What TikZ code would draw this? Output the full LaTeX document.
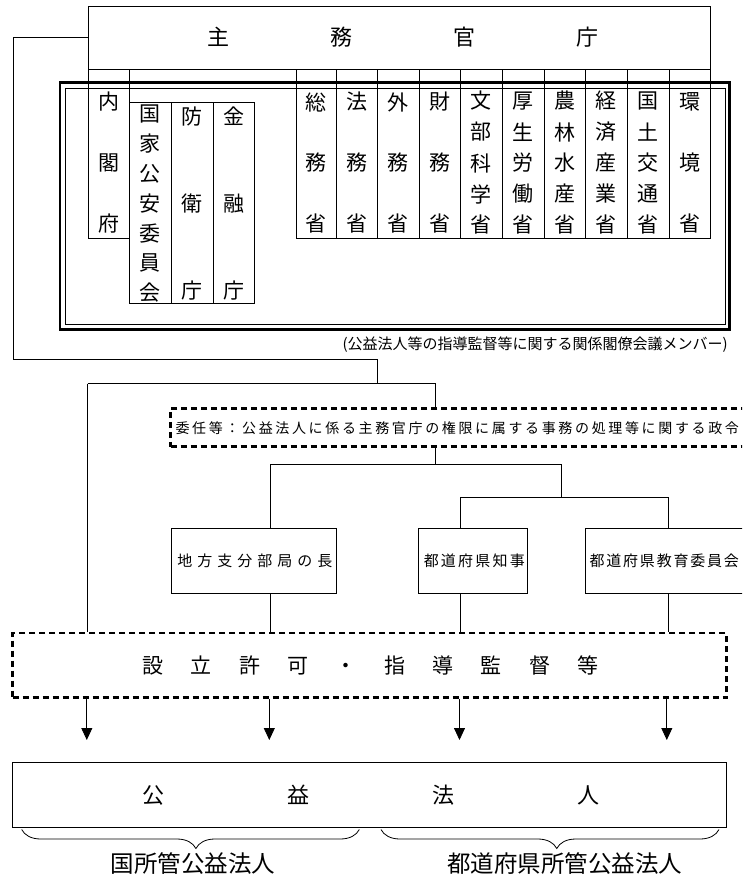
\documentclass[tikz,border=0pt]{standalone}
\usepackage{fontspec}
\setmainfont{Noto Sans CJK JP}
\usetikzlibrary{fit,arrows.meta,decorations.pathreplacing}

\newlength\spcw
\def\spreadtxt#1#2{\setlength\spcw{#1}\spreadloop#2\relax}
\def\spreadloop#1{\ifx\relax#1\else\hbox to\spcw{\hss#1\hss}\expandafter\spreadloop\fi}
\def\vspread#1#2{\vbox{\setlength\spcw{#1}\vspreadloop#2\relax}}
\def\vspreadloop#1{\ifx\relax#1\else\vbox to\spcw{\vss\hbox{#1}\vss}\expandafter\vspreadloop\fi}

\tikzset{
  box/.style={draw, line width=0.8pt, inner sep=0pt},
  dbox/.style={draw, line width=2.6pt, dash pattern=on 6pt off 4pt, inner sep=0pt},
  chr/.style={inner sep=0pt},
  conn/.style={line width=0.8pt},
  arr/.style={line width=0.8pt, -{Triangle[length=12pt,width=11pt]}},
  brc/.style={line width=0.8pt, decorate, decoration={brace, mirror, amplitude=19pt, aspect=#1}},
  fmin/.style={font=\fontsize{21}{25}\selectfont},
}

\begin{document}
\begin{tikzpicture}[x=1pt, y=-1pt]
\useasboundingbox (0,0) rectangle (742,878);
\clip (0,0) rectangle (742,878);

% title box
\node[box, fit={(88,6) (710,69)}] (gov) {};
\node[chr, font=\fontsize{22}{26}\selectfont] (govt) at (402.5,37.5) {\spreadtxt{123pt}{主務官庁}};

% columns
\node[box, fit={(88,69) (129,238)}] (naikaku) {};
\node[box, fit={(129,69) (296,82)}] (hdr) {};
\foreach \a/\b/\n in {296/336/1, 336/377.5/2, 377.5/419/3, 419/460.5/4, 460.5/502/5, 502/544/6, 544/585/7, 585/627/8, 627/669/9, 669/710/10}
  \node[box, fit={(\a,69) (\b,238)}] (m\n) {};
\node[box, fit={(129,102) (171,303.3)}] (kokka) {};
\node[box, fit={(171,102) (213,303.3)}] (bouei) {};
\node[box, fit={(213,102) (254,303.3)}] (kinyu) {};

% column texts
\node[chr, fmin] (naikakut) at (naikaku.center |- 0,163) {\vspread{60pt}{内閣府}};
\node[chr, fmin] (kokkat) at (kokka.center |- 0,203.5) {\vspread{28.8pt}{国家公安委員会}};
\node[chr, fmin] (boueit) at (bouei.center |- 0,203.5) {\vspread{86pt}{防衛庁}};
\node[chr, fmin] (kinyut) at (kinyu.center |- 0,203.5) {\vspread{86pt}{金融庁}};
\node[chr, fmin] (m1t) at (m1.center |- 0,163) {\vspread{60pt}{総務省}};
\node[chr, fmin] (m2t) at (m2.center |- 0,163) {\vspread{60pt}{法務省}};
\node[chr, fmin] (m3t) at (m3.center |- 0,163) {\vspread{60pt}{外務省}};
\node[chr, fmin] (m4t) at (m4.center |- 0,163) {\vspread{60pt}{財務省}};
\node[chr, fmin] (m5t) at (m5.center |- 0,163) {\vspread{30pt}{文部科学省}};
\node[chr, fmin] (m6t) at (m6.center |- 0,163) {\vspread{30pt}{厚生労働省}};
\node[chr, fmin] (m7t) at (m7.center |- 0,163) {\vspread{30pt}{農林水産省}};
\node[chr, fmin] (m8t) at (m8.center |- 0,163) {\vspread{30pt}{経済産業省}};
\node[chr, fmin] (m9t) at (m9.center |- 0,163) {\vspread{30pt}{国土交通省}};
\node[chr, fmin] (m10t) at (m10.center |- 0,163) {\vspread{60pt}{環境省}};

% double frame
\node[draw, line width=2.4pt, inner sep=0pt, fit={(60,82.5) (729.5,329.5)}] (dbo) {};
\node[draw, line width=1pt, inner sep=0pt, fit={(65.5,88) (725,324)}] (dbi) {};
\node[chr, anchor=east, font=\fontsize{15}{18}\selectfont] (member) at (728,345) {(公益法人等の指導監督等に関する関係閣僚会議メンバー)};

% delegation box
\node[dbox, fit={(170.7,408.5) (780,446.5)}] (inin) {};
\node[chr, anchor=west, font=\fontsize{14}{17}\selectfont] (inint) at (174,428) {\spreadtxt{16.65pt}{委任等：公益法人に係る主務官庁の権限に属する事務の処理等に関する政令}};

% local authorities
\node[box, fit={(171.3,528.3) (336,593.3)}] (chiho) {};
\node[chr, font=\fontsize{15}{18}\selectfont] (chihot) at (254.8,561) {\spreadtxt{20pt}{地方支分部局の長}};
\node[box, fit={(418.8,528.3) (527.7,593.3)}] (chiji) {};
\node[chr, font=\fontsize{15}{18}\selectfont] (chijit) at (474.3,561) {\spreadtxt{17.2pt}{都道府県知事}};
\node[box, fit={(585.4,528.3) (790,593.3)}] (kyoiku) {};
\node[chr, anchor=west, font=\fontsize{15}{18}\selectfont] (kyoikut) at (588.5,561) {\spreadtxt{16.8pt}{都道府県教育委員会}};

% supervision box
\node[dbox, fit={(12.7,633) (726.7,697.5)}] (settei) {};
\node[chr, font=\fontsize{21}{25}\selectfont] (setteit) at (370.5,665) {\spreadtxt{48.33pt}{設立許可・指導監督等}};

% public interest corporation
\node[box, fit={(12.7,762.5) (726,827.5)}] (koueki) {};
\node[chr, font=\fontsize{22}{26}\selectfont] (kouekit) at (370.5,795) {\spreadtxt{145pt}{公益法人}};

% connectors
\coordinate (c1) at (13,37.5);
\coordinate (c2) at (13,359.3);
\coordinate (c3) at (377.7,359.3);
\coordinate (j1) at (377.7,383.5);
\coordinate (jl) at (87.7,383.5);
\coordinate (jr) at (435.7,383.5);
\draw[conn] (gov.west) -- (c1) -- (c2) -- (c3) -- (j1);
\draw[conn] (jl) -- (jr);
\draw[conn] (jr) -- (jr |- inin.north);
\draw[conn] (jl) -- (jl |- settei.north);

\coordinate (t0) at (435.7,464);
\coordinate (tb) at (270.8,464);
\coordinate (tc) at (561,464);
\coordinate (t2) at (561,497);
\coordinate (t2l) at (460.7,497);
\coordinate (t2r) at (668.7,497);
\draw[conn] (t0 |- inin.south) -- (t0);
\draw[conn] (tb) -- (tc);
\draw[conn] (tb) -- (tb |- chiho.north);
\draw[conn] (tc) -- (t2);
\draw[conn] (t2l) -- (t2r);
\draw[conn] (t2l) -- (t2l |- chiji.north);
\draw[conn] (t2r) -- (t2r |- kyoiku.north);
\draw[conn] (tb |- chiho.south) -- (tb |- settei.north);
\draw[conn] (t2l |- chiji.south) -- (t2l |- settei.north);
\draw[conn] (t2r |- kyoiku.south) -- (t2r |- settei.north);

% arrows
\coordinate (a1) at (86.8,740);
\coordinate (a2) at (269.3,740);
\coordinate (a3) at (459.5,740);
\coordinate (a4) at (666.8,740);
\foreach \p in {a1,a2,a3,a4}
  \draw[arr] (\p |- settei.south) -- (\p);

% braces
\coordinate (b1s) at (21.7,829.5);
\coordinate (b1e) at (359.3,829.5);
\coordinate (b2s) at (381,829.5);
\coordinate (b2e) at (719,829.5);
\draw[brc=0.516] (b1s) -- (b1e);
\draw[brc=0.52] (b2s) -- (b2e);
\node[chr, font=\fontsize{23.5}{28}\selectfont] (lab1) at (193,864) {国所管公益法人};
\node[chr, font=\fontsize{23.5}{28}\selectfont] (lab2) at (564.5,864) {都道府県所管公益法人};
\end{tikzpicture}
\end{document}
